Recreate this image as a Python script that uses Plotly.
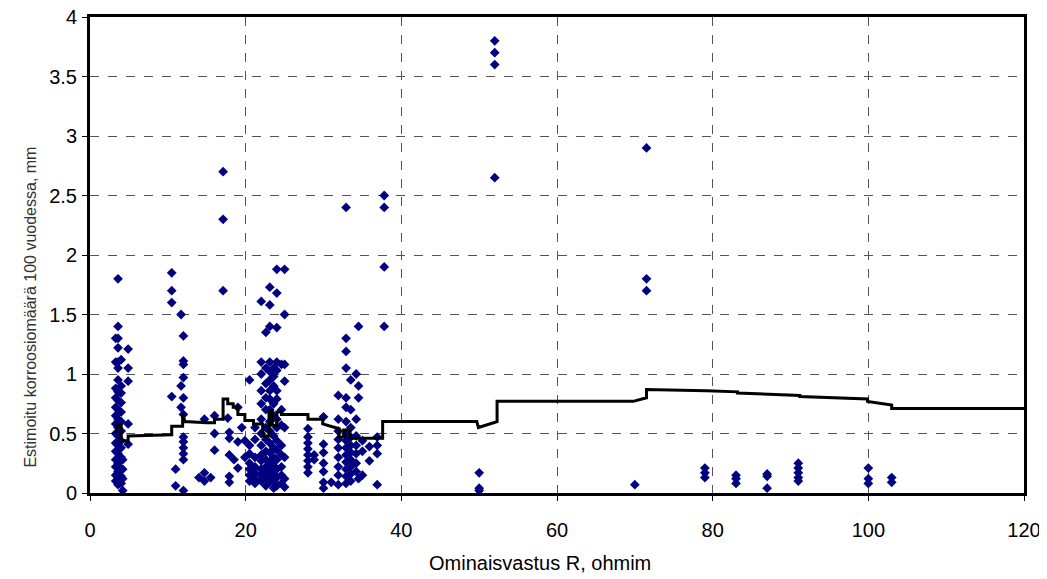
import plotly.graph_objects as go

# ---- scatter data: resistivity (x) columns with their corrosion values (y) ----
col_x = [3.3, 3.6, 4.0, 4.2, 4.9,
         10.5, 11.0, 11.7, 12.0,
         14.0, 14.7, 15.5, 16.0, 17.1, 17.7, 17.9, 18.5, 19.0, 19.5, 19.9,
         20.5, 21.2, 22.0, 22.6, 23.1, 23.6, 24.0, 24.6, 25.0,
         28.0, 28.8, 30.0,
         31.0, 31.9, 32.9, 33.5, 34.2, 34.5, 35.0, 35.9, 36.9, 37.8,
         50.0, 52.0, 70.0, 71.5, 79.0, 83.0, 87.0, 91.0, 100.0, 103.0]
col_y = [
    [1.30, 1.10, 0.88, 0.80, 0.72, 0.65, 0.58, 0.50, 0.42, 0.35, 0.28, 0.22, 0.15, 0.10],
    [1.80, 1.40, 1.30, 1.22, 1.10, 1.05, 0.95, 0.85, 0.78, 0.70, 0.62, 0.55, 0.48, 0.40, 0.33, 0.25, 0.18, 0.12, 0.07],
    [1.12, 0.90, 0.84, 0.76, 0.68, 0.60, 0.52, 0.44, 0.38, 0.30, 0.20, 0.14, 0.08],
    [0.28, 0.20, 0.12, 0.02],
    [1.21, 1.05, 0.94, 0.58, 0.41],
    [1.85, 1.70, 1.60, 0.81],
    [0.20, 0.06],
    [1.50, 0.90, 0.72],
    [1.32, 1.11, 1.08, 0.97, 0.80, 0.66, 0.47, 0.43, 0.38, 0.33, 0.28, 0.02],
    [0.13],
    [0.62, 0.17, 0.10],
    [0.13],
    [0.65, 0.50, 0.36],
    [2.70, 2.30, 1.70],
    [0.63],
    [0.51, 0.46, 0.32, 0.14, 0.09],
    [0.28],
    [0.72, 0.43, 0.21],
    [0.55],
    [0.44, 0.30],
    [0.95, 0.40, 0.33, 0.25, 0.20, 0.15, 0.10],
    [0.55, 0.45, 0.30, 0.22, 0.17, 0.12, 0.08],
    [1.61, 1.10, 1.00, 0.86, 0.75, 0.62, 0.50, 0.40, 0.32, 0.27, 0.20, 0.15, 0.10],
    [1.35, 1.05, 0.92, 0.80, 0.70, 0.55, 0.45, 0.35, 0.28, 0.22, 0.18, 0.12, 0.06],
    [1.73, 1.58, 1.40, 1.10, 1.02, 0.95, 0.86, 0.79, 0.70, 0.60, 0.52, 0.42, 0.34, 0.26, 0.20, 0.14, 0.09],
    [1.05, 0.98, 0.90, 0.75, 0.65, 0.48, 0.38, 0.30, 0.23, 0.16, 0.10, 0.04],
    [1.88, 1.68, 1.39, 1.10, 1.03, 0.86, 0.79, 0.62, 0.55, 0.44, 0.36, 0.28, 0.20, 0.13, 0.06],
    [1.08, 0.70, 0.57, 0.40, 0.32, 0.22, 0.15, 0.08],
    [1.88, 1.50, 1.08, 0.94, 0.55, 0.30, 0.12, 0.05],
    [0.54, 0.47, 0.42, 0.37, 0.32, 0.27, 0.22, 0.17],
    [0.32, 0.28],
    [0.64, 0.41, 0.34, 0.25, 0.18, 0.09, 0.04],
    [0.09],
    [0.82, 0.62, 0.52, 0.45, 0.38, 0.30, 0.22, 0.15, 0.07],
    [2.40, 1.30, 1.19, 1.05, 0.80, 0.72, 0.60, 0.50, 0.44, 0.38, 0.32, 0.26, 0.20, 0.14, 0.08],
    [0.95, 0.70, 0.55, 0.47, 0.40, 0.34, 0.28, 0.22, 0.16, 0.10],
    [1.00, 0.62, 0.48, 0.40, 0.33, 0.25, 0.18],
    [1.40, 0.90, 0.80, 0.12],
    [0.44, 0.35, 0.15],
    [0.39, 0.27],
    [0.47, 0.40, 0.33, 0.07],
    [2.50, 2.40, 1.90, 1.40],
    [0.17, 0.04, 0.02],
    [3.80, 3.70, 3.60, 2.65],
    [0.07],
    [2.90, 1.80, 1.70],
    [0.21, 0.17, 0.13],
    [0.15, 0.12, 0.08],
    [0.16, 0.14, 0.04],
    [0.25, 0.21, 0.17, 0.13, 0.10],
    [0.21, 0.12, 0.08],
    [0.13, 0.09],
]

# ---- running-mean step line ----
line_x = [3.4, 3.4, 4.0, 4.0, 4.9, 4.9, 10.5, 10.5, 11.7, 11.9, 11.9, 12.2,
          15.0, 16.0, 16.0, 17.1, 17.1, 17.7, 17.7, 18.4, 18.4, 19.0, 19.0,
          19.9, 19.9, 21.0, 21.0, 22.2, 22.2, 23.0, 23.0, 23.4, 23.4, 24.0,
          24.0, 24.6, 24.6, 28.0, 28.0, 29.9, 29.9, 32.0, 32.0, 32.6, 32.6,
          33.4, 33.4, 36.9, 37.6, 37.6, 49.7, 49.9, 52.3, 52.3, 69.8, 71.5,
          71.5, 79.2, 83.2, 83.2, 87.2, 91.2, 91.2, 99.9, 99.9, 103.0, 103.0, 120.0]
line_y = [0.50, 0.57, 0.57, 0.44, 0.44, 0.48, 0.49, 0.56, 0.56, 0.56, 0.67, 0.60,
          0.59, 0.59, 0.62, 0.62, 0.79, 0.79, 0.75, 0.75, 0.72, 0.72, 0.66,
          0.66, 0.61, 0.61, 0.58, 0.58, 0.48, 0.48, 0.69, 0.69, 0.57, 0.57,
          0.68, 0.68, 0.66, 0.66, 0.62, 0.62, 0.58, 0.54, 0.47, 0.47, 0.53,
          0.53, 0.46, 0.455, 0.46, 0.60, 0.60, 0.55, 0.60, 0.77, 0.77, 0.80,
          0.87, 0.86, 0.85, 0.84, 0.83, 0.82, 0.81, 0.79, 0.77, 0.74, 0.71, 0.71]

x_ticks = [0, 20, 40, 60, 80, 100, 120]
y_ticks = [0, 0.5, 1, 1.5, 2, 2.5, 3, 3.5, 4]
x_title = "Ominaisvastus R, ohmim"
y_title = "Estimoitu korroosiomäärä 100 vuodessa, mm"

pts_x, pts_y = [], []
for cx, ys in zip(col_x, col_y):
    for v in ys:
        pts_x.append(cx)
        pts_y.append(v)

fig = go.Figure()
fig.add_trace(go.Scatter(
    x=pts_x, y=pts_y, mode="markers",
    marker=dict(symbol="diamond", size=7.5, color="#000080",
                line=dict(width=0)),
    cliponaxis=False, showlegend=False, hoverinfo="x+y"))
fig.add_trace(go.Scatter(
    x=line_x, y=line_y, mode="lines",
    line=dict(color="black", width=3),
    showlegend=False))

FONT = "Liberation Sans, Arial, sans-serif"
axis_common = dict(
    showline=True, linecolor="black", linewidth=3, mirror=True,
    showgrid=True, gridcolor="#555555", gridwidth=1, griddash="dash",
    ticks="outside", ticklen=5, tickwidth=1, tickcolor="black",
    zeroline=False, automargin=False, ticklabeloverflow="allow",
    tickfont=dict(family=FONT, size=20, color="black"),
)

fig.update_xaxes(range=[0, 120], tickvals=x_ticks, ticklabelstandoff=12, **axis_common)
fig.update_yaxes(range=[0, 4], tickvals=y_ticks, ticklabelstandoff=1, **axis_common)

fig.add_annotation(
    text=x_title, xref="paper", yref="paper", x=0.482, y=-0.147,
    xanchor="center", yanchor="middle", showarrow=False,
    font=dict(family=FONT, size=20, color="black"))
fig.add_annotation(
    text=y_title, xref="paper", yref="paper", x=-0.064, y=0.39,
    xanchor="center", yanchor="middle", showarrow=False, textangle=-90,
    font=dict(family=FONT, size=16, color="#333333"))

# the page body adds an 8px offset, so the figure is sized to fit the window
fig.update_layout(
    width=1039, height=571,
    margin=dict(l=82, r=23, t=9, b=86),
    paper_bgcolor="white", plot_bgcolor="white",
    showlegend=False,
)

fig.write_html("out.html")
